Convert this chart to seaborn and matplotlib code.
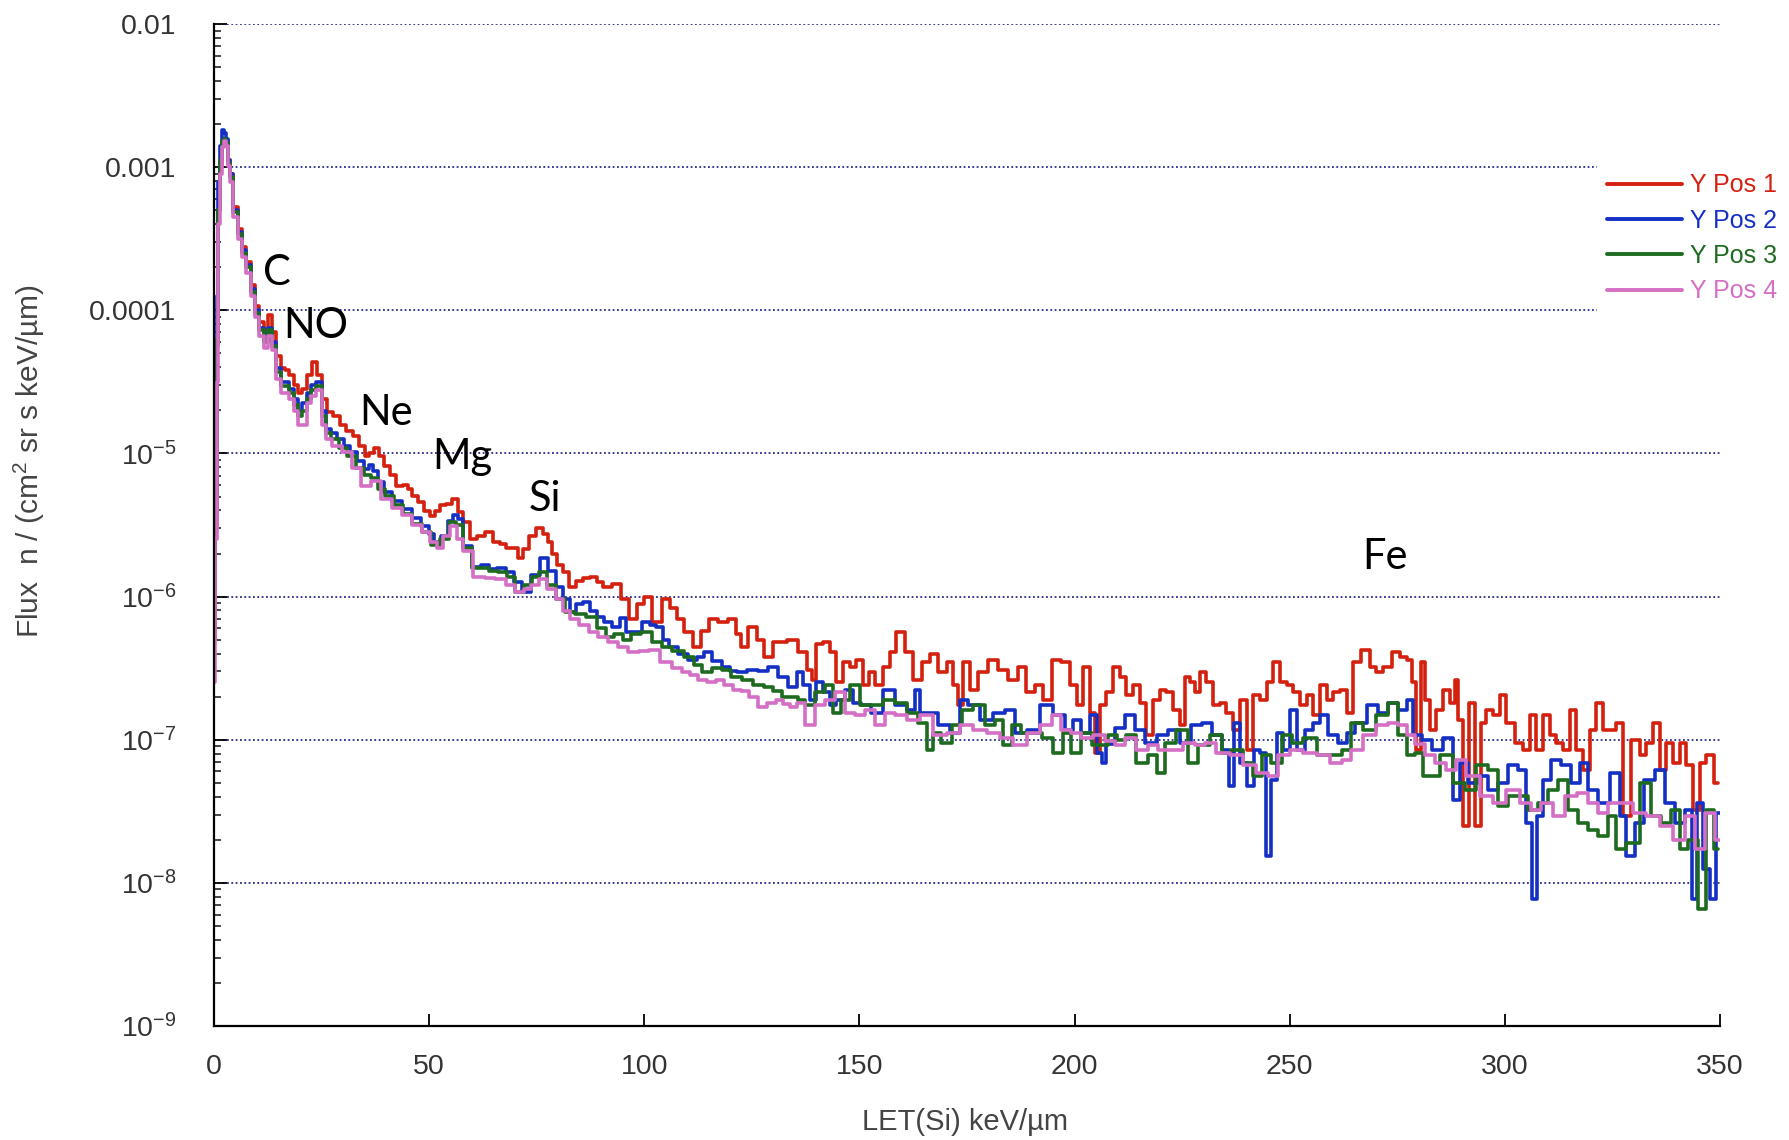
import numpy as np
import pandas as pd
import matplotlib
matplotlib.use("Agg")
import matplotlib.pyplot as plt
from matplotlib.lines import Line2D
from matplotlib.ticker import FixedLocator, LogLocator, NullFormatter
import seaborn as sns

# ---------------------------------------------------------------- data
series_names = ["Y Pos 1", "Y Pos 2", "Y Pos 3", "Y Pos 4"]
series_colors = ["#d4210f", "#1430c4", "#1d6b1f", "#d56fc6"]

# LET(Si) in keV/um and log10 of the differential flux for each position
pos1_let = [
    0.0, 0.4, 0.8, 1.2, 1.6, 2.0, 2.5, 3.0, 3.5, 4.0,
    5.0, 6.0, 7.0, 8.0, 9.0, 10.0, 11.0, 12.0, 13.0, 14.0,
    15.0, 16.0, 17.0, 18.0, 19.0, 20.0, 21.0, 22.0, 23.5, 24.5, 25.5,
    27.0, 28.5, 30.0, 31.5, 33.0, 34.5, 35.5, 36.5, 37.8, 39.0,
    40.2, 41.5, 43.2, 44.5, 45.5, 46.7, 47.9, 49.5, 50.9, 52.0,
    53.2, 54.5, 56.0, 57.2, 58.5, 60.3, 62.0, 64.1, 65.7, 67.0,
    68.5, 70.0, 71.1, 72.5, 74.0, 75.7, 77.0, 78.0, 79.2, 80.4,
    81.8, 83.4, 85.0, 86.5, 88.1, 89.7, 91.3, 93.6, 95.5, 97.4,
    99.0, 100.8, 102.9, 105.2, 106.8, 108.3, 110.2, 112.2, 114.0, 116.0,
    118.3, 120.6, 122.0, 123.0, 125.3, 127.0, 128.5, 131.5, 134.6, 136.9,
    138.5, 139.2, 140.8, 142.3, 143.9, 145.4, 147.0, 148.5, 150.1, 151.6,
    152.8, 154.4, 156.3, 157.8, 159.4, 161.7, 163.3, 165.6, 167.1, 169.5,
    171.0, 172.6, 173.3, 174.9, 176.4, 178.8, 181.1, 183.4, 185.7, 188.0,
    189.6, 191.9, 193.5, 195.8, 198.1, 199.7, 201.2, 202.8, 204.3, 205.1,
    206.6, 208.2, 209.7, 211.3, 212.8, 214.4, 215.9, 217.5, 219.0, 220.6,
    222.1, 223.7, 225.2, 226.0, 227.6, 228.3, 229.9, 231.4, 233.0, 234.5,
    236.1, 237.6, 239.2, 240.7, 242.3, 243.8, 245.4, 246.9, 248.5, 250.0,
    251.6, 253.1, 254.7, 256.2, 257.8, 259.3, 260.9, 262.4, 264.0, 265.5,
    267.8, 269.4, 270.9, 272.5, 274.8, 276.4, 277.9, 278.7, 279.8, 281.0,
    281.7, 283.3, 284.8, 286.4, 287.9, 288.7, 289.5, 291.0, 292.2, 293.8,
    294.9, 296.5, 298.0, 299.6, 301.1, 303.4, 305.0, 306.5, 308.1, 309.6,
    311.2, 312.7, 314.3, 315.8, 317.4, 318.9, 320.5, 322.0, 323.6, 325.1,
    326.7, 328.2, 330.5, 332.1, 333.6, 335.2, 336.7, 338.3, 339.8, 341.4,
    342.9, 344.5, 346.0, 347.6, 349.5,
]
pos1_log_flux = [
    -6.30, -5.50, -4.25, -3.30, -3.00, -2.85, -2.80, -2.82, -2.95, -3.05,
    -3.28, -3.43, -3.56, -3.66, -3.82, -3.97, -4.08, -4.15, -4.03, -4.15,
    -4.32, -4.40, -4.42, -4.45, -4.52, -4.58, -4.55, -4.45, -4.36, -4.45, -4.62,
    -4.71, -4.74, -4.80, -4.84, -4.88, -4.95, -5.02, -5.00, -4.96, -5.02,
    -5.09, -5.15, -5.23, -5.22, -5.25, -5.30, -5.34, -5.40, -5.44, -5.40,
    -5.36, -5.35, -5.32, -5.41, -5.48, -5.60, -5.58, -5.55, -5.62, -5.63,
    -5.66, -5.66, -5.73, -5.67, -5.58, -5.52, -5.56, -5.62, -5.70, -5.78,
    -5.83, -5.93, -5.89, -5.87, -5.86, -5.90, -5.93, -5.91, -6.02, -6.16,
    -6.05, -6.00, -6.18, -6.02, -6.08, -6.16, -6.25, -6.35, -6.24, -6.16,
    -6.18, -6.16, -6.26, -6.35, -6.21, -6.30, -6.42, -6.32, -6.30, -6.39,
    -6.51, -6.58, -6.33, -6.32, -6.39, -6.60, -6.46, -6.49, -6.44, -6.62,
    -6.53, -6.62, -6.49, -6.39, -6.25, -6.39, -6.58, -6.46, -6.40, -6.53,
    -6.46, -6.62, -6.76, -6.46, -6.65, -6.53, -6.44, -6.51, -6.58, -6.49,
    -6.67, -6.62, -6.72, -6.44, -6.46, -6.62, -6.76, -6.49, -6.81, -7.09,
    -6.76, -6.67, -6.49, -6.56, -6.69, -6.62, -6.74, -6.97, -6.72, -6.65,
    -6.67, -6.79, -6.90, -6.56, -6.60, -6.67, -6.53, -6.60, -6.76, -6.74,
    -6.81, -6.93, -6.72, -7.07, -6.69, -6.72, -6.60, -6.46, -6.60, -6.62,
    -6.67, -6.76, -6.69, -6.83, -6.62, -6.72, -6.67, -6.65, -6.81, -6.46,
    -6.37, -6.49, -6.53, -6.49, -6.39, -6.42, -6.44, -6.60, -7.07, -6.46,
    -6.72, -6.93, -6.79, -6.65, -6.74, -6.58, -6.86, -7.60, -6.74, -7.60,
    -6.88, -6.79, -6.83, -6.69, -6.88, -7.02, -7.07, -6.83, -7.07, -6.83,
    -6.97, -7.02, -7.07, -6.79, -7.07, -7.21, -6.93, -6.74, -6.93, -6.93,
    -6.88, -7.53, -7.00, -7.11, -7.02, -6.88, -7.21, -7.02, -7.16, -7.02,
    -7.18, -7.49, -7.16, -7.11, -7.30,
]

pos2_let = [
    0.0, 0.4, 0.8, 1.2, 1.6, 2.0, 2.5, 3.0, 3.5, 4.0,
    5.0, 6.0, 7.0, 8.0, 9.0, 10.0, 11.0, 12.0, 13.0, 14.0,
    15.0, 16.0, 17.0, 18.0, 19.0, 20.0, 21.0, 22.0, 23.0, 24.5, 25.5,
    26.5, 28.0, 29.3, 31.0, 32.3, 34.0, 35.5, 36.5, 37.4, 38.8,
    40.1, 42.5, 44.8, 47.0, 49.4, 50.6, 51.8, 53.5, 55.0, 56.0,
    57.2, 58.7, 61.1, 63.0, 64.8, 66.8, 68.8, 70.5, 72.7, 74.5,
    76.9, 78.5, 80.4, 82.0, 83.4, 85.0, 86.7, 88.2, 89.7, 91.5,
    93.6, 95.0, 96.7, 98.5, 100.6, 102.0, 103.6, 105.0, 106.6, 109.0,
    111.3, 113.0, 114.5, 116.8, 119.2, 120.7, 122.2, 125.3, 127.6, 130.0,
    132.3, 134.6, 136.2, 137.7, 139.2, 140.8, 142.3, 143.9, 145.4, 147.8,
    149.3, 151.6, 153.9, 157.1, 159.4, 162.5, 163.3, 164.8, 167.1, 169.5,
    172.6, 174.1, 176.4, 179.5, 182.6, 185.0, 187.3, 190.4, 193.5, 196.6,
    198.9, 200.4, 202.8, 204.3, 205.9, 206.6, 208.2, 210.5, 212.8, 215.2,
    217.5, 220.6, 222.9, 226.0, 228.3, 230.7, 233.0, 235.3, 236.5, 237.6,
    239.2, 241.1, 242.3, 243.8, 245.0, 246.2, 247.7, 249.3, 250.8, 252.4,
    254.7, 256.2, 257.8, 260.1, 262.4, 264.0, 266.3, 269.4, 271.7, 274.0,
    276.4, 277.9, 279.5, 281.8, 284.1, 287.2, 288.7, 290.3, 292.6, 294.9,
    297.2, 299.6, 301.9, 304.2, 305.8, 306.9, 308.1, 309.6, 312.0, 314.3,
    316.6, 318.2, 320.5, 322.8, 325.9, 327.4, 329.0, 331.3, 333.6, 336.0,
    338.3, 340.6, 342.9, 344.1, 345.3, 346.8, 348.4, 349.9,
]
pos2_log_flux = [
    -5.00, -4.60, -3.90, -3.10, -2.85, -2.74, -2.76, -2.80, -2.95, -3.05,
    -3.30, -3.45, -3.58, -3.68, -3.85, -4.00, -4.12, -4.20, -4.12, -4.22,
    -4.40, -4.50, -4.50, -4.55, -4.62, -4.70, -4.65, -4.58, -4.52, -4.50, -4.70,
    -4.83, -4.86, -4.90, -4.95, -4.99, -5.05, -5.11, -5.08, -5.12, -5.20,
    -5.27, -5.33, -5.39, -5.45, -5.51, -5.56, -5.62, -5.58, -5.47, -5.43,
    -5.46, -5.65, -5.79, -5.78, -5.81, -5.80, -5.83, -5.90, -5.97, -5.85,
    -5.73, -5.82, -5.93, -6.02, -6.11, -6.05, -6.04, -6.10, -6.14, -6.18,
    -6.21, -6.15, -6.25, -6.25, -6.18, -6.20, -6.21, -6.30, -6.35, -6.40,
    -6.44, -6.42, -6.39, -6.45, -6.49, -6.52, -6.53, -6.51, -6.52, -6.49,
    -6.56, -6.63, -6.53, -6.62, -6.72, -6.60, -6.67, -6.76, -6.72, -6.65,
    -6.74, -6.76, -6.81, -6.65, -6.76, -6.79, -6.65, -6.81, -6.81, -6.90,
    -6.95, -6.72, -6.76, -6.86, -6.81, -6.79, -6.95, -6.93, -6.76, -6.83,
    -6.93, -6.86, -6.95, -6.83, -7.09, -7.16, -7.03, -6.92, -6.83, -6.93,
    -7.02, -6.97, -6.93, -7.02, -6.90, -6.88, -6.97, -7.07, -7.32, -6.88,
    -7.16, -7.32, -7.07, -7.09, -7.81, -7.28, -6.95, -7.07, -6.79, -7.07,
    -6.93, -6.88, -6.83, -6.97, -7.02, -6.95, -6.88, -6.76, -6.81, -6.74,
    -6.79, -6.72, -6.97, -7.00, -7.07, -6.99, -7.42, -7.16, -7.30, -7.25,
    -7.35, -7.30, -7.18, -7.21, -7.58, -8.11, -7.53, -7.28, -7.14, -7.18,
    -7.30, -7.16, -7.35, -7.44, -7.23, -7.53, -7.81, -7.58, -7.28, -7.21,
    -7.44, -7.58, -7.49, -8.11, -7.44, -7.90, -8.11, -7.51,
]

pos3_let = [
    0.0, 0.4, 0.8, 1.2, 1.6, 2.0, 2.5, 3.0, 3.5, 4.0,
    5.0, 6.0, 7.0, 8.0, 9.0, 10.0, 11.0, 12.0, 13.0, 14.0,
    15.0, 16.0, 17.0, 18.0, 19.0, 20.0, 21.0, 22.0, 23.0, 24.5, 25.5,
    26.5, 28.0, 30.0, 32.0, 34.0, 35.5, 37.4, 39.0, 40.5, 43.0,
    45.0, 47.0, 49.5, 51.5, 53.5, 55.5, 57.0, 58.7, 61.0, 63.0,
    64.8, 67.0, 69.0, 71.0, 73.0, 74.8, 76.4, 78.5, 80.5, 82.7,
    85.0, 88.1, 90.0, 92.0, 94.0, 96.0, 98.0, 100.6, 103.0, 105.0,
    108.0, 110.6, 112.5, 114.5, 117.0, 119.0, 121.5, 124.0, 126.5, 129.0,
    131.0, 133.0, 135.0, 136.2, 138.5, 140.8, 143.1, 144.7, 146.5, 149.3,
    150.9, 153.9, 157.1, 159.4, 162.5, 164.8, 166.4, 167.9, 170.2, 172.6,
    174.9, 178.0, 180.3, 182.6, 184.2, 186.5, 188.8, 191.2, 193.5, 196.6,
    198.1, 200.4, 202.8, 205.1, 206.6, 208.9, 211.0, 212.8, 215.9, 218.3,
    219.8, 222.1, 225.2, 227.6, 229.9, 233.0, 235.3, 237.6, 240.7, 242.3,
    244.6, 246.9, 249.3, 251.6, 254.7, 257.8, 260.9, 263.2, 265.5, 268.6,
    271.7, 274.0, 276.4, 277.9, 280.2, 281.8, 283.3, 286.4, 289.5, 291.8,
    294.9, 297.2, 299.6, 301.9, 304.2, 306.5, 308.9, 311.2, 313.5, 315.8,
    318.2, 320.5, 322.8, 325.1, 326.7, 329.8, 332.9, 335.2, 337.5, 339.8,
    341.4, 343.7, 346.0, 347.6, 349.5,
]
pos3_log_flux = [
    -6.00, -5.30, -4.20, -3.30, -2.95, -2.82, -2.80, -2.83, -2.97, -3.07,
    -3.31, -3.47, -3.60, -3.70, -3.87, -4.02, -4.14, -4.22, -4.14, -4.25,
    -4.43, -4.53, -4.53, -4.58, -4.66, -4.74, -4.70, -4.62, -4.56, -4.53, -4.74,
    -4.86, -4.90, -4.96, -5.02, -5.10, -5.15, -5.17, -5.25, -5.30, -5.36,
    -5.42, -5.49, -5.55, -5.64, -5.60, -5.48, -5.50, -5.66, -5.80, -5.80,
    -5.82, -5.83, -5.86, -5.97, -5.92, -5.86, -5.83, -5.92, -6.02, -6.11,
    -6.12, -6.14, -6.22, -6.28, -6.26, -6.30, -6.26, -6.25, -6.32, -6.35,
    -6.38, -6.42, -6.48, -6.53, -6.50, -6.51, -6.56, -6.58, -6.62, -6.63,
    -6.66, -6.70, -6.70, -6.72, -6.76, -6.67, -6.62, -6.81, -6.72, -6.62,
    -6.76, -6.76, -6.72, -6.74, -6.81, -6.88, -7.07, -6.95, -7.02, -6.90,
    -6.79, -6.76, -6.90, -6.86, -7.04, -6.90, -6.95, -6.95, -6.99, -7.09,
    -6.95, -7.09, -6.95, -7.04, -7.04, -6.97, -7.00, -6.97, -7.16, -7.11,
    -7.23, -7.02, -6.93, -7.16, -7.04, -6.97, -7.09, -7.07, -7.16, -7.25,
    -7.11, -7.16, -6.97, -7.02, -6.99, -7.11, -7.11, -7.07, -6.88, -6.93,
    -6.83, -6.74, -6.97, -7.11, -7.09, -7.25, -7.25, -7.11, -7.30, -7.35,
    -7.18, -7.21, -7.46, -7.39, -7.39, -7.49, -7.44, -7.35, -7.28, -7.49,
    -7.58, -7.63, -7.67, -7.53, -7.76, -7.72, -7.30, -7.53, -7.58, -7.49,
    -7.76, -7.70, -8.18, -7.49, -7.76,
]

pos4_let = [
    0.0, 0.4, 0.8, 1.2, 1.6, 2.0, 2.5, 3.0, 3.5, 4.0,
    5.0, 6.0, 7.0, 8.0, 9.0, 10.0, 11.0, 12.0, 13.0, 14.0,
    15.0, 16.0, 17.0, 18.0, 19.0, 20.0, 21.0, 22.0, 23.0, 24.5, 25.5,
    26.5, 28.5, 30.9, 33.0, 35.5, 37.4, 40.0, 42.5, 45.0, 47.0,
    49.5, 51.0, 52.5, 54.0, 55.5, 57.2, 58.7, 61.8, 64.0, 66.5,
    69.0, 71.1, 73.0, 74.5, 76.4, 78.5, 80.4, 82.0, 83.4, 86.0,
    88.1, 90.5, 92.7, 95.0, 97.4, 100.0, 102.0, 105.2, 107.5, 109.9,
    111.5, 113.6, 115.5, 117.6, 119.5, 121.5, 123.5, 125.3, 127.6, 129.5,
    131.5, 133.0, 134.6, 136.2, 138.5, 140.8, 143.1, 145.4, 147.8, 150.1,
    152.4, 154.7, 157.1, 159.4, 162.5, 165.6, 168.7, 171.8, 174.9, 178.0,
    181.1, 184.2, 187.3, 190.4, 193.5, 195.8, 198.1, 200.4, 202.8, 205.9,
    208.2, 210.5, 212.8, 215.9, 218.3, 220.6, 223.7, 226.8, 229.1, 231.4,
    234.5, 237.6, 240.7, 243.8, 246.2, 248.5, 251.6, 254.7, 257.8, 260.9,
    263.2, 265.5, 268.6, 271.7, 274.0, 276.4, 277.9, 280.2, 282.5, 284.8,
    287.9, 289.5, 292.6, 295.7, 298.8, 301.9, 305.0, 307.3, 309.6, 312.7,
    315.1, 318.2, 320.5, 322.8, 325.1, 328.2, 331.3, 334.4, 337.5, 340.6,
    342.9, 345.3, 347.6, 349.9,
]
pos4_log_flux = [
    -6.60, -5.60, -4.50, -3.40, -3.05, -2.86, -2.82, -2.85, -2.99, -3.10,
    -3.35, -3.50, -3.63, -3.74, -3.90, -4.05, -4.18, -4.26, -4.18, -4.28,
    -4.48, -4.58, -4.58, -4.62, -4.70, -4.80, -4.80, -4.65, -4.60, -4.56, -4.80,
    -4.90, -4.95, -4.99, -5.10, -5.23, -5.19, -5.32, -5.38, -5.43, -5.50,
    -5.55, -5.62, -5.66, -5.58, -5.51, -5.60, -5.68, -5.86, -5.87, -5.88,
    -5.92, -5.97, -5.95, -5.92, -5.88, -5.95, -6.02, -6.10, -6.16, -6.20,
    -6.25, -6.28, -6.32, -6.35, -6.39, -6.38, -6.37, -6.46, -6.50, -6.53,
    -6.55, -6.58, -6.60, -6.58, -6.62, -6.65, -6.66, -6.70, -6.77, -6.74,
    -6.72, -6.75, -6.77, -6.74, -6.90, -6.76, -6.72, -6.67, -6.81, -6.83,
    -6.79, -6.90, -6.81, -6.83, -6.86, -6.83, -6.97, -6.95, -6.90, -6.93,
    -6.95, -6.99, -7.04, -6.95, -6.90, -6.83, -6.93, -6.95, -6.99, -6.97,
    -7.01, -7.04, -6.99, -7.07, -7.04, -7.07, -7.07, -7.02, -7.04, -7.02,
    -7.09, -7.11, -7.18, -7.23, -7.25, -7.11, -7.07, -7.09, -7.11, -7.16,
    -7.14, -7.07, -6.97, -6.90, -6.88, -6.90, -6.97, -7.03, -7.11, -7.16,
    -7.21, -7.14, -7.25, -7.39, -7.44, -7.35, -7.44, -7.49, -7.44, -7.53,
    -7.39, -7.37, -7.44, -7.51, -7.44, -7.44, -7.51, -7.53, -7.60, -7.70,
    -7.53, -7.76, -7.51, -7.70,
]

# element peaks marked on the spectrum
ion_names = ["C", "NO", "Ne", "Mg", "Si", "Fe"]
ion_let = [11.45, 16.0, 33.8, 50.6, 73.0, 266.9]
ion_log_flux = [-3.82, -4.19, -4.80, -5.11, -5.40, -5.81]

x_ticks = [0, 50, 100, 150, 200, 250, 300, 350]
y_ticks = [1e-9, 1e-8, 1e-7, 1e-6, 1e-5, 1e-4, 1e-3, 1e-2]
y_tick_labels = [r"$\mathregular{10^{-9}}$", r"$\mathregular{10^{-8}}$",
                 r"$\mathregular{10^{-7}}$", r"$\mathregular{10^{-6}}$",
                 r"$\mathregular{10^{-5}}$", "0.0001", "0.001", "0.01"]

# ---------------------------------------------------------------- frame
lets = [pos1_let, pos2_let, pos3_let, pos4_let]
logs = [pos1_log_flux, pos2_log_flux, pos3_log_flux, pos4_log_flux]
frames = []
for name, let, lf in zip(series_names, lets, logs):
    assert len(let) == len(lf), name
    frames.append(pd.DataFrame({"LET": let,
                                "flux": np.power(10.0, np.asarray(lf)),
                                "series": name}))
spectra = pd.concat(frames, ignore_index=True)

# ---------------------------------------------------------------- style
sns.set_theme(style="white")
plt.rcParams["font.family"] = ["Liberation Sans", "DejaVu Sans"]
plt.rcParams["axes.unicode_minus"] = False

fig = plt.figure(figsize=(17.9, 11.4), dpi=100)
ax = fig.add_axes([0.1196, 0.1, 0.8413, 0.8789])
ax.set_yscale("log")

palette = dict(zip(series_names, series_colors))
sns.lineplot(data=spectra, x="LET", y="flux", hue="series",
             hue_order=series_names, palette=palette, estimator=None,
             drawstyle="steps-mid", linewidth=2.6, legend=False, ax=ax)

ax.set_xlim(0, 350)
ax.set_ylim(1e-9, 1e-2)

# axes, ticks and grid
for side in ("top", "right"):
    ax.spines[side].set_visible(False)
for side in ("left", "bottom"):
    ax.spines[side].set_color("black")
    ax.spines[side].set_linewidth(1.6)

ax.xaxis.set_major_locator(FixedLocator(x_ticks))
ax.set_xticklabels([str(t) for t in x_ticks])
ax.yaxis.set_major_locator(FixedLocator(y_ticks))
ax.set_yticklabels(y_tick_labels)
ax.yaxis.set_minor_locator(LogLocator(base=10, subs=np.arange(2, 10)))
ax.yaxis.set_minor_formatter(NullFormatter())

ax.tick_params(axis="both", which="major", direction="in", length=9,
               width=1.3, colors="black", labelcolor="#333333",
               labelsize=20.5)
ax.tick_params(axis="x", which="major", pad=20, bottom=True, top=False)
ax.tick_params(axis="y", which="major", pad=27, left=True, right=False)
ax.tick_params(axis="y", which="minor", direction="in", length=5,
               width=1.2, left=True, right=False)

ax.set_axisbelow(True)
ax.yaxis.grid(True, which="major", color="#2b2b8c",
              linestyle=(0, (1.0, 1.4)), linewidth=1.3)
ax.xaxis.grid(False)

ax.set_xlabel("LET(Si) keV/µm", fontsize=21, color="#444444")
ax.xaxis.label.set_va("center")
ax.xaxis.set_label_coords(0.4987, -0.0958)
ax.set_ylabel("Flux  n / (cm$\\mathregular{^2}$ sr s keV/µm)",
              fontsize=21.5, color="#444444")
ax.yaxis.label.set_va("center")
ax.yaxis.set_label_coords(-0.1228, 0.5639)

# element labels
for name, x, lf in zip(ion_names, ion_let, ion_log_flux):
    ax.text(x, 10.0 ** lf, name, ha="left", va="baseline",
            fontsize=30, color="black", family=["Lato", "DejaVu Sans"])

# legend
handles = [Line2D([], [], color=c, linewidth=2.8) for c in series_colors]
leg = fig.legend(handles, series_names, loc="upper left",
                 bbox_to_anchor=(1597 / 1790, 1 - 163 / 1140),
                 fontsize=18, handlelength=3.0, handletextpad=0.3,
                 labelspacing=0.45, borderpad=0.42, borderaxespad=0,
                 frameon=True, fancybox=False)
leg.get_frame().set_facecolor("white")
leg.get_frame().set_edgecolor("white")
leg.get_frame().set_alpha(1.0)
for text, color in zip(leg.get_texts(), series_colors):
    text.set_color(color)

fig.savefig("out.png", dpi=100, facecolor="white")
